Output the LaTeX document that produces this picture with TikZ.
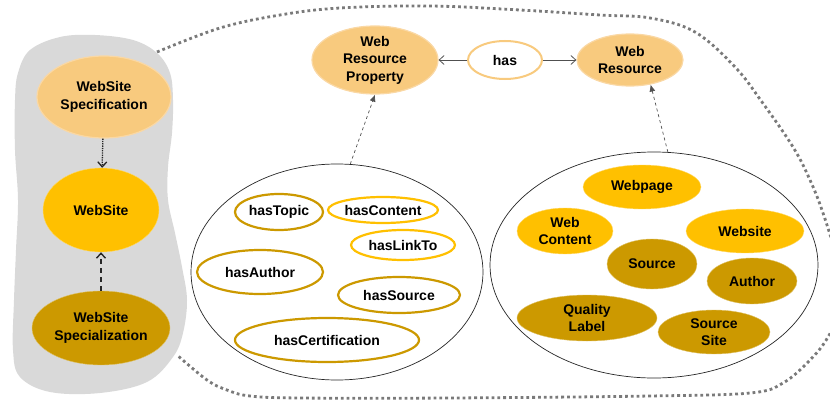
\documentclass[tikz,border=0pt]{standalone}
\usepackage{fontspec}
\setmainfont{Liberation Sans}
\usetikzlibrary{shapes.geometric,arrows.meta}

\definecolor{blobgray}{HTML}{D9D9D9}
\definecolor{peach}{HTML}{F8CA7E}
\definecolor{peachedge}{HTML}{FAD8A4}
\definecolor{amber}{HTML}{FFC000}
\definecolor{gold}{HTML}{CC9900}
\definecolor{dotgray}{HTML}{7A7A7A}
\definecolor{linkgray}{HTML}{505050}

\tikzset{
  oval/.style={ellipse, inner sep=0pt, align=center,
    font=\fontsize{14}{17.5}\selectfont\bfseries},
  peachnode/.style={oval, fill=peach, draw=peachedge, line width=1.2pt},
  ambernode/.style={oval, fill=amber, draw=amber!60!white, line width=0.4pt},
  goldnode/.style={oval, fill=gold, draw=gold!60!white, line width=0.4pt},
  goldring/.style={oval, fill=white, draw=gold, line width=2.2pt},
  amberring/.style={oval, fill=white, draw=amber, line width=2.2pt},
  group/.style={ellipse, inner sep=0pt, draw=black!85, line width=0.7pt, fill=white},
  sz/.style 2 args={minimum width=#1pt, minimum height=#2pt},
  boundary/.style={draw=dotgray, line width=2.8pt, dash pattern=on 2.8pt off 3pt},
  barb/.style={-{Straight Barb[length=5pt,width=9pt]}},
  tri/.style={-{Latex[length=7pt,width=6pt]}}
}

\begin{document}
\begin{tikzpicture}[x=1pt,y=-1pt]
\useasboundingbox (0,0) rectangle (830,404);
\clip (0,0) rectangle (830,404);

% dotted domain boundary
\draw[boundary] plot[smooth, tension=0.6] coordinates {
  (157,52) (220,28) (280,15) (340,8) (430,6) (520,10) (600,15) (650,18)
  (695,32) (735,67) (762,102) (793,147) (810,180) (823,213) (838,262)
  (845,300) (828,337) (810,360) (783,383) (750,393) (650,396) (450,398)
  (300,398) (250,396) (227,390) (207,380) (177,355)};

% grey site layer
\fill[blobgray] plot[smooth cycle, tension=0.6] coordinates {
  (95,35) (133,40) (157,53) (170,73) (173,100) (172,133) (168,167)
  (168,200) (175,233) (182,267) (187,300) (183,333) (173,357) (147,382)
  (100,393) (50,392) (20,377) (13,350) (14,300) (16,250) (18,200)
  (15,150) (15,100) (18,73) (30,50) (60,37)};

% site layer nodes
\node[peachnode, sz={134}{82}] (spec) at (104,97) {WebSite\\Specification};
\node[ambernode, sz={116}{84}] (site) at (101,210) {WebSite};
\node[goldnode, sz={138}{74}] (special) at (101,328) {WebSite\\Specialization};

\draw[barb, densely dotted, line width=1.3pt, black!85] (spec) -- (site);
\draw[barb, dash pattern=on 5pt off 4pt, line width=1.4pt, black!85] (special) -- (site);

% top level concepts
\node[peachnode, sz={126}{68}] (wrp) at (375,60) {Web\\Resource\\Property};
\node[oval, fill=white, draw=peach, line width=2pt, sz={74}{38}] (has) at (505,60) {has};
\node[peachnode, sz={106}{52}] (wr) at (630,60) {Web\\Resource};

\draw[barb, linkgray, line width=0.8pt] (has) -- (wrp);
\draw[barb, linkgray, line width=0.8pt] (has) -- (wr);

% property group
\node[group, sz={292}{216}] (props) at (337,272) {};
\node[goldring, sz={88}{36}] (topic) at (279,212) {hasTopic};
\node[amberring, sz={110}{26}] (content) at (383,210) {hasContent};
\node[amberring, sz={104}{30}] (linkto) at (403,245) {hasLinkTo};
\node[goldring, sz={126}{44}] (author) at (260,272) {hasAuthor};
\node[goldring, sz={122}{36}] (source) at (399,295) {hasSource};
\node[goldring, sz={184}{44}] (cert) at (327,340) {hasCertification};

% resource group
\node[group, sz={328}{226}] (res) at (654,265) {};
\node[ambernode, sz={118}{44}] (webpage) at (642,187) {Webpage};
\node[ambernode, sz={96}{46}] (webcontent) at (565,231) {Web\\Content};
\node[ambernode, sz={118}{44}] (website) at (745,231) {Website};
\node[goldnode, sz={90}{50}] (src) at (652,264) {Source};
\node[goldnode, sz={90}{46}] (auth) at (752,281) {Author};
\node[goldnode, sz={140}{46}] (quality) at (587,318) {Quality\\Label};
\node[goldnode, sz={112}{44}] (srcsite) at (714,332) {Source\\Site};

% instance-of links
\draw[tri, dashed, linkgray, line width=0.7pt] (props.83) -- (wrp.south);
\draw[tri, dashed, linkgray, line width=0.7pt] (res.83) -- (wr.-50);
\end{tikzpicture}
\end{document}
